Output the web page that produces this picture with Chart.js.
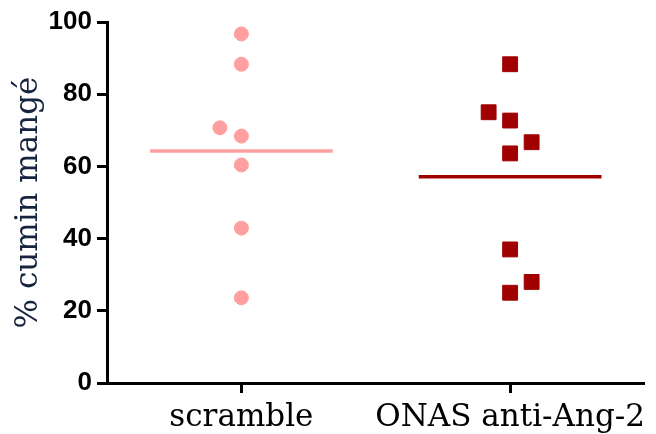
<!DOCTYPE html>
<html>
<head>
<meta charset="utf-8">
<script src="https://cdn.jsdelivr.net/npm/chart.js@4/dist/chart.umd.min.js"></script>
<style>
  html, body { margin: 0; padding: 0; background: #fff; }
  #wrap { width: 656px; height: 434px; position: relative; }
</style>
</head>
<body>
<div id="wrap"><canvas id="chart"></canvas></div>
<script>
'use strict';

// groupes (positions des catégories sur l'axe x)
const categories = ['scramble', 'ONAS anti-Ang-2'];
const categoryPos = [0.5, 1.5];

// % cumin mangé
const scrambleValues = [96.7, 88.3, 70.7, 68.4, 60.4, 42.9, 23.6];
const scrambleJitter = [0, 0, -0.08, 0, 0, 0, 0];
const onasValues = [88.3, 75.0, 72.7, 66.7, 63.6, 37.0, 28.0, 25.0];
const onasJitter = [0, -0.08, 0, 0.08, 0, 0, 0.08, 0];

// moyennes (traits horizontaux)
const means = [64.3, 57.1];
const meanHalfWidth = 0.34;

const yTicks = [0, 20, 40, 60, 80, 100];

const PINK = '#ff9f9f';
const DARKRED = '#a00000';

function toPoints(values, jitter, pos) {
  return values.map((v, i) => ({ x: pos + jitter[i], y: v }));
}

function meanLine(i) {
  return [
    { x: categoryPos[i] - meanHalfWidth, y: means[i] },
    { x: categoryPos[i] + meanHalfWidth, y: means[i] },
  ];
}

new Chart(document.getElementById('chart'), {
  type: 'scatter',
  data: {
    datasets: [
      {
        type: 'line',
        data: meanLine(0),
        borderColor: PINK,
        borderWidth: 3.5,
        pointRadius: 0,
        fill: false,
      },
      {
        type: 'line',
        data: meanLine(1),
        borderColor: DARKRED,
        borderWidth: 3.5,
        pointRadius: 0,
        fill: false,
      },
      {
        data: toPoints(scrambleValues, scrambleJitter, categoryPos[0]),
        pointStyle: 'circle',
        pointRadius: 7,
        pointBorderWidth: 1,
        backgroundColor: PINK,
        borderColor: PINK,
      },
      {
        data: toPoints(onasValues, onasJitter, categoryPos[1]),
        pointStyle: 'rect',
        pointRadius: 10.5,
        pointBorderWidth: 1,
        backgroundColor: DARKRED,
        borderColor: DARKRED,
      },
    ],
  },
  options: {
    responsive: true,
    maintainAspectRatio: false,
    animation: false,
    clip: false,
    layout: { padding: { top: 22, right: 6, left: 0, bottom: 0 } },
    plugins: {
      legend: { display: false },
      tooltip: { enabled: false },
    },
    scales: {
      x: {
        type: 'linear',
        min: 0,
        max: 2,
        afterFit: (s) => { s.height = 51; },
        afterBuildTicks: (s) => { s.ticks = categoryPos.map(v => ({ value: v })); },
        border: { display: true, color: '#000', width: 3 },
        grid: {
          display: true,
          drawOnChartArea: false,
          drawTicks: true,
          tickLength: 10,
          tickWidth: 3,
          tickColor: '#000',
        },
        ticks: {
          color: '#000',
          padding: 6,
          maxRotation: 0,
          autoSkip: false,
          font: { family: 'DejaVu Serif', size: 31 },
          callback: (v, i) => categories[i],
        },
      },
      y: {
        min: 0,
        max: 100,
        afterFit: (s) => { s.width = 107; },
        afterBuildTicks: (s) => { s.ticks = yTicks.map(v => ({ value: v })); },
        border: { display: true, color: '#000', width: 3 },
        grid: {
          display: true,
          drawOnChartArea: false,
          drawTicks: true,
          tickLength: 10,
          tickWidth: 3,
          tickColor: '#000',
        },
        ticks: {
          color: '#000',
          padding: 5,
          font: { family: 'Liberation Sans', size: 26, weight: 'bold' },
        },
        title: {
          display: true,
          text: '% cumin mangé',
          color: '#17243f',
          padding: { top: 10, bottom: 0 },
          font: { family: 'DejaVu Serif', size: 31 },
        },
      },
    },
  },
});
</script>
</body>
</html>
